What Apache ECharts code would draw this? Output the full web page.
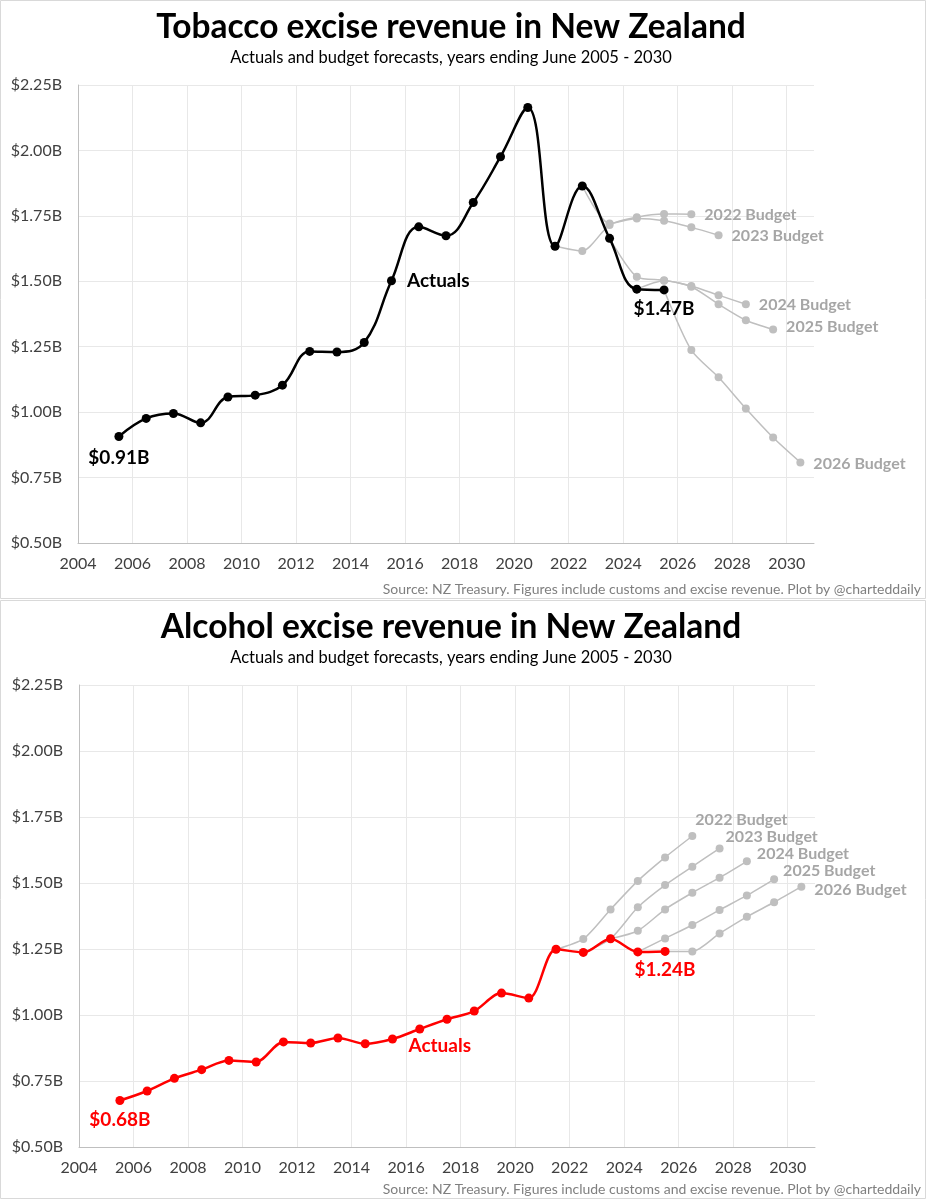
<!DOCTYPE html>
<html>
<head>
<meta charset="utf-8">
<script src="https://cdn.jsdelivr.net/npm/echarts@6/dist/echarts.min.js"></script>
<style>
* { margin: 0; padding: 0; }
body { width: 927px; height: 1200px; background: #fff; }
.chart { position: absolute; left: 0; width: 927px; height: 600px; }
#tobacco { top: 0; }
#alcohol { top: 600px; }
</style>
</head>
<body>
<div id="tobacco" class="chart"></div>
<div id="alcohol" class="chart"></div>
<script>
// years ending June
const actualYears = [2005, 2006, 2007, 2008, 2009, 2010, 2011, 2012, 2013, 2014, 2015,
  2016, 2017, 2018, 2019, 2020, 2021, 2022, 2023, 2024, 2025];
const tobaccoActual = [0.907, 0.976, 0.995, 0.959, 1.058, 1.065, 1.103, 1.232, 1.230, 1.266, 1.502,
  1.708, 1.674, 1.801, 1.976, 2.164, 1.634, 1.864, 1.664, 1.470, 1.467];
const alcoholActual = [0.676, 0.712, 0.760, 0.793, 0.828, 0.822, 0.898, 0.894, 0.913, 0.891, 0.909,
  0.947, 0.984, 1.015, 1.083, 1.064, 1.249, 1.237, 1.289, 1.239, 1.241];

// each budget starts from the last actual known at the time
const budgetNames = ['2022 Budget', '2023 Budget', '2024 Budget', '2025 Budget', '2026 Budget'];
const budgetStart = [2021, 2022, 2023, 2024, 2025];

const tobacco2022 = [1.634, 1.616, 1.715, 1.745, 1.757, 1.756];
const tobacco2023 = [1.864, 1.721, 1.740, 1.731, 1.706, 1.676];
const tobacco2024 = [1.664, 1.517, 1.504, 1.482, 1.447, 1.412];
const tobacco2025 = [1.470, 1.502, 1.479, 1.412, 1.351, 1.316];
const tobacco2026 = [1.467, 1.237, 1.133, 1.014, 0.903, 0.808];

const alcohol2022 = [1.249, 1.288, 1.400, 1.508, 1.597, 1.678];
const alcohol2023 = [1.237, 1.289, 1.408, 1.492, 1.562, 1.631];
const alcohol2024 = [1.289, 1.319, 1.400, 1.463, 1.520, 1.582];
const alcohol2025 = [1.239, 1.290, 1.341, 1.398, 1.453, 1.514];
const alcohol2026 = [1.241, 1.241, 1.309, 1.372, 1.427, 1.486];

const FONT = 'Lato, "Open Sans", sans-serif';
const GREY = '#bfbfbf';
const GREY_TEXT = '#a6a6a6';
const SUB = 'Actuals and budget forecasts, years ending June 2005 - 2030';
const SOURCE = 'Source: NZ Treasury. Figures include customs and excise revenue. Plot by @charteddaily';

// a year-ending-June value sits half a year right of its tick
const pos = y => y + 0.5;
const money = v => '$' + v.toFixed(2) + 'B';

function budgetSeries(values, i, offset) {
  return {
    type: 'line',
    name: budgetNames[i],
    data: values.map((v, k) => [pos(budgetStart[i] + k), v]),
    smooth: 0.25,
    symbol: 'circle',
    symbolSize: 8,
    z: 2,
    lineStyle: { color: GREY, width: 1.5 },
    itemStyle: { color: GREY },
    endLabel: {
      show: true,
      formatter: '{a}',
      distance: 0,
      offset: offset,
      color: GREY_TEXT,
      fontFamily: FONT,
      fontWeight: 'bold',
      fontSize: 16
    }
  };
}

function actualSeries(values, color, labels) {
  const data = values.map((v, k) => {
    const item = { value: [pos(actualYears[k]), v] };
    if (labels[k]) {
      item.label = Object.assign({
        show: true, color, fontFamily: FONT, fontWeight: 'bold', fontSize: 19
      }, labels[k]);
    }
    return item;
  });
  return {
    type: 'line',
    name: 'Actuals',
    data,
    smooth: color === '#000' ? 0.4 : 0.3,
    symbol: 'circle',
    symbolSize: 9,
    z: 5,
    lineStyle: { color, width: 2.5 },
    itemStyle: { color }
  };
}

function baseOption(title, grid, series) {
  return {
    animation: false,
    graphic: [
      {
        type: 'rect', silent: true,
        shape: { x: 0.5, y: 0.5, width: 925, height: 598 },
        style: { fill: null, stroke: '#d9d9d9', lineWidth: 1 }
      },
      {
        type: 'text', x: 451, y: 27,
        style: { text: title, align: 'center', verticalAlign: 'middle',
          font: 'bold 33.5px ' + FONT, fill: '#000' }
      },
      {
        type: 'text', x: 451, y: 58,
        style: { text: SUB, align: 'center', verticalAlign: 'middle',
          font: '16.5px ' + FONT, fill: '#000' }
      },
      {
        type: 'text', x: 921, y: 589,
        style: { text: SOURCE, align: 'right', verticalAlign: 'middle',
          font: '14px ' + FONT, fill: '#7f7f7f' }
      }
    ],
    grid,
    xAxis: {
      type: 'value', min: 2004, max: 2031, interval: 2,
      axisLine: { lineStyle: { color: '#bfbfbf' } },
      axisTick: { show: false },
      axisLabel: {
        margin: 13, fontFamily: FONT, fontSize: 16, color: '#404040', showMaxLabel: false,
        formatter: v => (v % 2 === 0 ? String(v) : '')
      },
      splitLine: { show: true, showMaxLine: false, lineStyle: { color: '#e8e8e8' } }
    },
    yAxis: {
      type: 'value', min: 0.5, max: 2.25, interval: 0.25,
      axisLine: { show: true, lineStyle: { color: '#bfbfbf' } },
      axisTick: { show: false },
      axisLabel: { margin: 16, fontFamily: FONT, fontSize: 16, color: '#404040', formatter: money },
      splitLine: { lineStyle: { color: '#e8e8e8' } }
    },
    series
  };
}

const tobaccoChart = echarts.init(document.getElementById('tobacco'));
const tobLabels = [];
tobLabels[0] = { position: 'bottom', distance: 7, formatter: p => money(p.value[1]) };
tobLabels[10] = { position: 'right', distance: 11, formatter: 'Actuals' };
tobLabels[20] = { position: 'bottom', distance: 5, formatter: p => money(p.value[1]) };
tobaccoChart.setOption(baseOption('Tobacco excise revenue in New Zealand',
  { left: 78, right: 113, top: 85, bottom: 57 },
  [
    budgetSeries(tobacco2022, 0, [13, 1]),
    budgetSeries(tobacco2023, 1, [13, 1]),
    budgetSeries(tobacco2024, 2, [13, 1]),
    budgetSeries(tobacco2025, 3, [13, -3]),
    budgetSeries(tobacco2026, 4, [13, 1]),
    actualSeries(tobaccoActual, '#000', tobLabels)
  ]));

const alcoholChart = echarts.init(document.getElementById('alcohol'));
const alcLabels = [];
alcLabels[0] = { position: 'bottom', distance: 5, formatter: p => money(p.value[1]) };
alcLabels[11] = { position: 'bottom', distance: 3, offset: [20, 0], formatter: 'Actuals' };
alcLabels[20] = { position: 'bottom', distance: 4, formatter: p => money(p.value[1]) };
alcoholChart.setOption(baseOption('Alcohol excise revenue in New Zealand',
  { left: 79, right: 112, top: 85, bottom: 53 },
  [
    budgetSeries(alcohol2022, 0, [3, -16]),
    budgetSeries(alcohol2023, 1, [6, -12]),
    budgetSeries(alcohol2024, 2, [10, -8]),
    budgetSeries(alcohol2025, 3, [9, -8]),
    budgetSeries(alcohol2026, 4, [13, 3]),
    actualSeries(alcoholActual, '#ff0000', alcLabels)
  ]));
</script>
</body>
</html>
